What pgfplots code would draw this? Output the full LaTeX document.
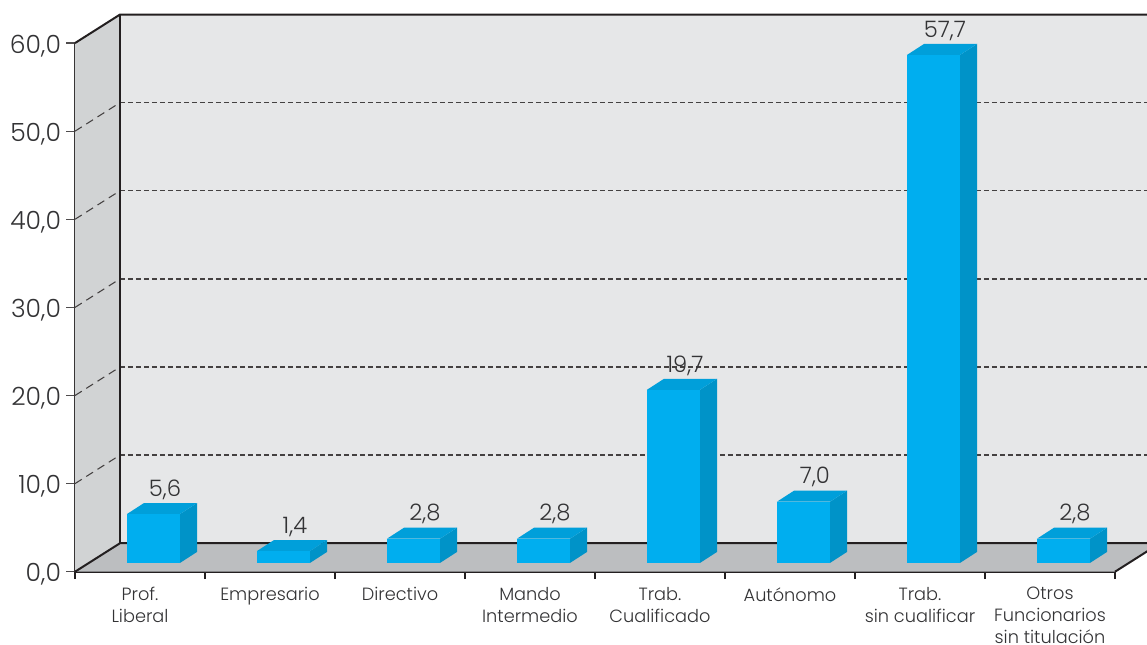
\documentclass[border=0pt]{standalone}
\usepackage{pgfplots}
\usepackage{pgfplotstable}
\usepackage{fontspec}
\setmainfont{Poppins Light}
\pgfplotsset{compat=1.18}
\definecolor{backwall}{HTML}{E6E7E8}
\definecolor{sidewall}{HTML}{D1D3D4}
\definecolor{floorc}{HTML}{BCBEC0}
\definecolor{front}{HTML}{00AEEF}
\definecolor{topc}{HTML}{009FDA}
\definecolor{sidec}{HTML}{0093C8}
\definecolor{linec}{HTML}{231F20}
\definecolor{textc}{HTML}{333335}
\pgfplotstableread{
pos v
0 5.6
1 1.4
2 2.8
3 2.8
4 19.7
5 7.0
6 57.7
7 2.8
}\bardata
\begin{document}
\begin{tikzpicture}
\begin{axis}[
  at={(0pt,0pt)}, anchor=south west,
  scale only axis, width=780pt, height=396.5pt,
  xmin=0, xmax=8, ymin=0, ymax=60,
  clip=false,
  axis x line=bottom, axis y line=left,
  axis line style={-, draw=linec, line width=1.5pt},
  xtick={0.5,1.5,2.5,3.5,4.5,5.5,6.5,7.5},
  xticklabels={{Prof.\\Liberal},Empresario,Directivo,{Mando\\Intermedio},{Trab.\\Cualificado},Autónomo,{Trab.\\sin cualificar},{Otros\\Funcionarios\\sin titulación}},
  minor xtick={0,1,2,3,4,5,6,7,8},
  ytick={0,10,20,30,40,50,60},
  major x tick style={draw=none},
  minor x tick style={draw=linec, line width=0.8pt},
  y tick style={draw=linec!80, line width=0.9pt},
  tick align=outside,
  minor tick length=5.5pt,
  major tick length=6.7pt,
  x tick label style={align=center, anchor=north, yshift=-1.5pt, text=textc, font=\fontsize{13.3}{16.4}\selectfont},
  y tick label style={text=textc, font=\fontsize{18.8}{22}\selectfont, xshift=-0.3pt, yshift=-2pt,
     /pgf/number format/.cd, assume math mode=true, use comma, fixed, fixed zerofill, precision=1},
]
% walls
\addplot[fill=backwall, draw=none] coordinates {(0.346,3.235) (8.6,3.235) (8.6,63.235) (0.346,63.235)} --cycle;
\addplot[fill=sidewall, draw=none] coordinates {(0,0) (0.346,3.235) (0.346,63.235) (0,60)} --cycle;
\addplot[fill=floorc, draw=none] coordinates {(0,0) (8,0) (8.346,3.235) (0.346,3.235)} --cycle;
% dashed grid
\pgfplotsinvokeforeach{10,20,30,40,50}{
  \pgfmathsetmacro\yb{#1+3.235}
  \edef\temp{\noexpand\addplot[draw=linec!85, line width=0.8pt, dash pattern=on 6pt off 4pt] coordinates {(0,#1) (0.346,\yb)};
  \noexpand\addplot[draw=linec!85, line width=1pt, dash pattern=on 3.8pt off 2.2pt] coordinates {(0.346,\yb) (8.6,\yb)};}
  \temp
}
% frame lines
\addplot[draw=linec, line width=1.5pt] coordinates {(0,60) (0.346,63.235) (8.6,63.235)};
\addplot[draw=linec, line width=1.5pt] coordinates {(0.346,63.235) (0.346,3.235)};
\addplot[draw=linec, line width=1.5pt] coordinates {(0,0) (0.346,3.235) (8.6,3.235)};
\addplot[draw=linec, line width=1.5pt] coordinates {(8,0) (8.346,3.235)};
% bars
\pgfplotsforeachungrouped \i in {0,...,7}{
  \pgfplotstablegetelem{\i}{v}\of\bardata
  \let\val\pgfplotsretval
  \pgfmathsetmacro\xa{\i+0.4}
  \pgfmathsetmacro\xb{\i+0.808}
  \pgfmathsetmacro\xc{\i+0.939}
  \pgfmathsetmacro\xd{\i+0.531}
  \pgfmathsetmacro\yt{\val+0.95}
  \pgfmathsetmacro\ytb{\val+2.2}
  \edef\temp{%
  \noexpand\addplot[fill=sidec, draw=none] coordinates {(\xb,1) (\xc,2.25) (\xc,\ytb) (\xb,\yt)} --cycle;
  \noexpand\addplot[fill=topc, draw=none] coordinates {(\xa,\yt) (\xb,\yt) (\xc,\ytb) (\xd,\ytb)} --cycle;
  \noexpand\addplot[fill=front, draw=none] coordinates {(\xa,1) (\xb,1) (\xb,\yt) (\xa,\yt)} --cycle;}
  \temp
}
% value labels
\addplot[draw=none, mark=none, nodes near coords, point meta=explicit,
  every node near coord/.style={anchor=south, text=textc, font=\fontsize{17}{20}\selectfont, inner sep=2pt, yshift=0pt},
  /pgf/number format/.cd, assume math mode=true, use comma, fixed, fixed zerofill, precision=1]
  table[x expr=\thisrow{pos}+0.692, y expr=\thisrow{v}+2.25, meta=v] {\bardata};
\end{axis}
\pgfresetboundingbox
\useasboundingbox (-56.25pt,-54.2pt) rectangle (804pt,428.8pt);
\end{tikzpicture}
\end{document}
